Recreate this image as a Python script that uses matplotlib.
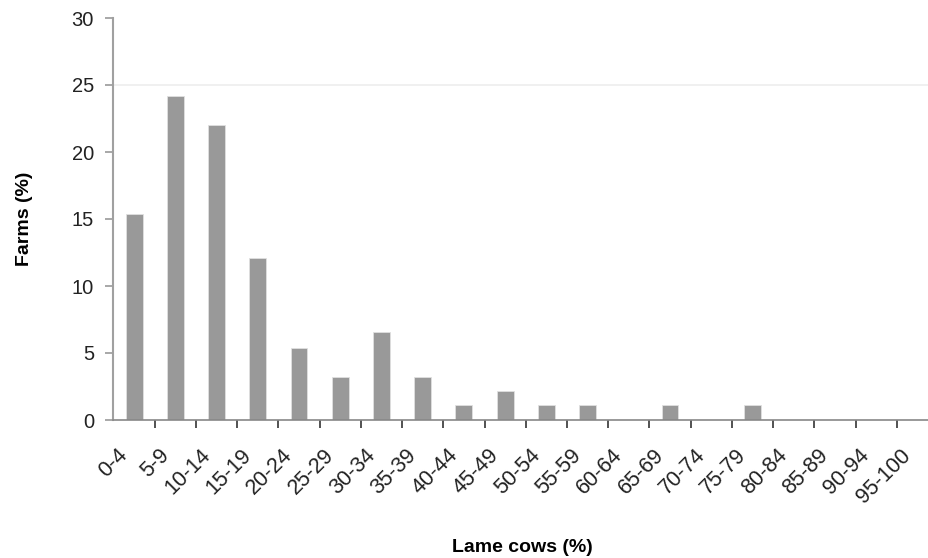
import matplotlib
matplotlib.use('Agg')
import matplotlib.pyplot as plt
from matplotlib.ticker import FixedLocator, NullFormatter
from matplotlib.transforms import ScaledTranslation, blended_transform_factory

plt.rcParams['font.family'] = ['Liberation Sans', 'DejaVu Sans']

# share of farms per lameness class
categories = ['0-4', '5-9', '10-14', '15-19', '20-24', '25-29', '30-34', '35-39',
              '40-44', '45-49', '50-54', '55-59', '60-64', '65-69', '70-74',
              '75-79', '80-84', '85-89', '90-94', '95-100']
farms_pct = [15.4, 24.2, 22.0, 12.1, 5.4, 3.2, 6.6, 3.2, 1.1, 2.2,
             1.1, 1.1, 0, 1.1, 0, 1.1, 0, 0, 0, 0]
y_ticks = [0, 5, 10, 15, 20, 25, 30]


def main():
	W, H = 929, 558
	fig = plt.figure(figsize=(W / 100, H / 100), dpi=100)
	# the category axis runs a little past the right edge of the picture
	left, right, bottom, top = 113.5, 938, 420, 18
	ax = fig.add_axes([left / W, 1 - bottom / H, (right - left) / W, (bottom - top) / H])

	x = list(range(len(categories)))
	ax.axhline(25, color='#eeeeee', lw=1.2, zorder=0)
	ax.bar(x, farms_pct, width=0.41, color='#999999', edgecolor='#e0e0e0', linewidth=0.6, zorder=2)

	ax.set_xlim(-0.5, len(categories) - 0.5)
	ax.set_ylim(0, 30)
	ax.set_yticks(y_ticks)

	ax.set_xticks(x)
	ax.xaxis.set_major_formatter(NullFormatter())
	ax.xaxis.set_minor_locator(FixedLocator([i - 0.5 for i in range(1, len(categories))]))
	ax.tick_params(axis='x', which='major', length=0)
	ax.tick_params(axis='x', which='minor', length=6, width=1.2, color='#333333')
	ax.tick_params(axis='y', length=6, width=1.2, color='#999999', pad=8, labelsize=14.5, labelcolor='#222222')

	# rotated category labels
	base = blended_transform_factory(ax.transData, ax.transAxes)
	shift = ScaledTranslation(-17 / 100, -25 / 100, fig.dpi_scale_trans)
	for xi, lab in zip(x, categories):
		ax.text(xi, 0, lab, transform=base + shift, rotation=45, rotation_mode='anchor',
				ha='right', va='top', fontsize=15.5, color='#222222', clip_on=False)

	for side in ['top', 'right']:
		ax.spines[side].set_visible(False)
	ax.spines['left'].set_color('#a0a0a0')
	ax.spines['left'].set_linewidth(1.5)
	ax.spines['bottom'].set_color('#888888')
	ax.spines['bottom'].set_linewidth(1.2)

	ax.set_ylabel('Farms (%)', fontsize=14, fontweight='bold', labelpad=28)
	fig.text(522 / W, 1 - 547 / H, 'Lame cows (%)', fontsize=14, fontweight='bold',
			 ha='center', va='center')

	fig.savefig('out.png', dpi=100)


if __name__ == '__main__':
	main()
